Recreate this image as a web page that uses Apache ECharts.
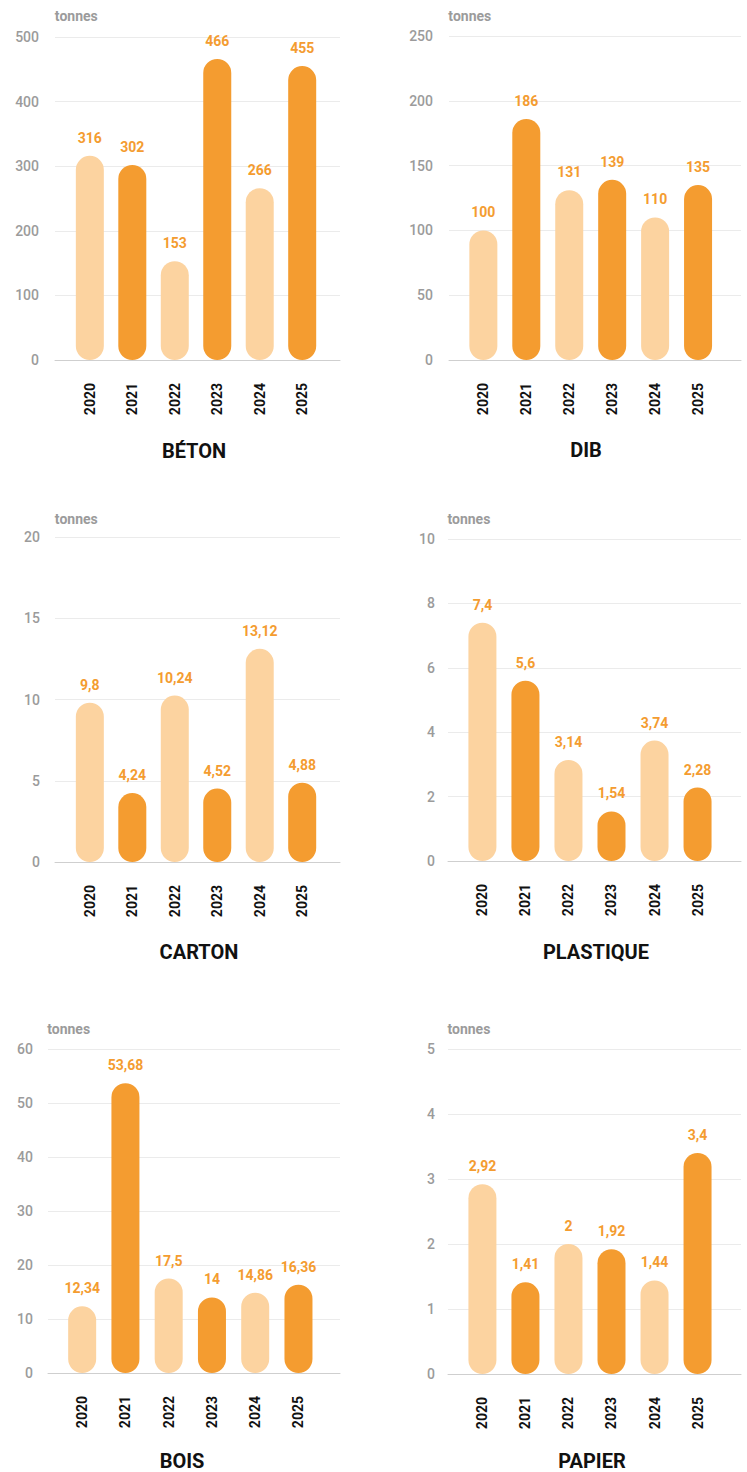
<!DOCTYPE html>
<html>
<head>
<meta charset="utf-8">
<script src="https://cdn.jsdelivr.net/npm/echarts@6/dist/echarts.min.js"></script>
<style>
  html, body { margin: 0; padding: 0; background: #ffffff; }
  #chart { width: 747px; height: 1472px; }
</style>
</head>
<body>
<div id="chart"></div>
<script>
// ---- data ----
const years = ['2020', '2021', '2022', '2023', '2024', '2025'];
const titles = ['BÉTON', 'DIB', 'CARTON', 'PLASTIQUE', 'BOIS', 'PAPIER'];
const unitLabel = 'tonnes';
const beton = [316, 302, 153, 466, 266, 455];
const dib = [100, 186, 131, 139, 110, 135];
const carton = [9.8, 4.24, 10.24, 4.52, 13.12, 4.88];
const plastique = [7.4, 5.6, 3.14, 1.54, 3.74, 2.28];
const bois = [12.34, 53.68, 17.5, 14, 14.86, 16.36];
const papier = [2.92, 1.41, 2, 1.92, 1.44, 3.4];
const yMax = [500, 250, 20, 10, 60, 5];
const yInterval = [100, 50, 5, 2, 10, 1];

const allSeries = [beton, dib, carton, plastique, bois, papier];

// ---- layout / style ----
const grids = [
  { left: 55,  top: 37,   width: 285, height: 323 },
  { left: 449, top: 36,   width: 292, height: 324 },
  { left: 55,  top: 537,  width: 285, height: 325 },
  { left: 448, top: 539,  width: 293, height: 322 },
  { left: 48,  top: 1049, width: 292, height: 324 },
  { left: 448, top: 1049, width: 293, height: 325 }
];
const xRange = [
  [-0.82, 5.89], [-0.80, 6.0], [-0.82, 5.89],
  [-0.80, 6.01], [-0.79, 5.96], [-0.80, 6.01]
];
const nameGaps = [21, 20, 18, 20, 20, 20];
const labelMargins = [16, 16, 15, 13, 15, 13];
const titlePos = [
  [194, 451], [586, 450], [199, 952],
  [596, 952], [182, 1461], [592, 1461]
];

const DARK = '#F49C30';
const LIGHT = '#FCD3A0';
const GRAY = '#9b9b9b';
const FONT = 'Roboto, "Noto Sans", sans-serif';

const idx = years.map((_, i) => i);
const fmt = v => String(v).replace('.', ',');

const option = {
  animation: false,
  backgroundColor: '#ffffff',
  title: titles.map((t, k) => ({
    text: t,
    left: titlePos[k][0],
    top: titlePos[k][1] - 8,
    textAlign: 'center',
    padding: 0,
    textStyle: { fontFamily: FONT, fontWeight: 'bold', fontSize: 20, lineHeight: 16, color: '#111111' }
  })),
  grid: grids.map(g => Object.assign({ containLabel: false }, g)),
  xAxis: grids.map((g, k) => ({
    type: 'value',
    gridIndex: k,
    min: xRange[k][0],
    max: xRange[k][1],
    axisLine: { show: true, lineStyle: { color: '#cfcfcf', width: 1 } },
    axisTick: { show: false },
    splitLine: { show: false },
    axisLabel: {
      customValues: idx,
      rotate: 90,
      margin: 23,
      color: '#111111',
      fontFamily: FONT,
      fontWeight: 'bold',
      fontSize: 14,
      formatter: v => years[Math.round(v)]
    }
  })),
  yAxis: grids.map((g, k) => ({
    type: 'value',
    gridIndex: k,
    min: 0,
    max: yMax[k],
    interval: yInterval[k],
    name: unitLabel,
    nameLocation: 'end',
    nameGap: nameGaps[k],
    nameMoveOverlap: false,
    nameTextStyle: {
      align: 'left', verticalAlign: 'middle',
      padding: [0, 0, 0, -35],
      color: GRAY, fontFamily: FONT, fontWeight: 'bold', fontSize: 14
    },
    axisLine: { show: false },
    axisTick: { show: false },
    splitLine: { show: true, lineStyle: { color: '#ebebeb', width: 1 } },
    axisLabel: {
      color: GRAY, fontFamily: FONT, fontWeight: 500, fontSize: 14,
      margin: labelMargins[k]
    }
  })),
  series: allSeries.map((vals, k) => ({
    type: 'bar',
    xAxisIndex: k,
    yAxisIndex: k,
    barWidth: 28,
    data: vals.map((v, i) => [i, v]),
    itemStyle: {
      borderRadius: 14,
      color: p => (p.dataIndex % 2 === 0 ? LIGHT : DARK)
    },
    label: {
      show: true,
      position: 'top',
      distance: 11,
      color: DARK,
      fontFamily: FONT,
      fontWeight: 'bold',
      fontSize: 14,
      formatter: p => fmt(p.value[1])
    }
  }))
};

const chart = echarts.init(document.getElementById('chart'), null, { renderer: 'svg' });
chart.setOption(option);
</script>
</body>
</html>
